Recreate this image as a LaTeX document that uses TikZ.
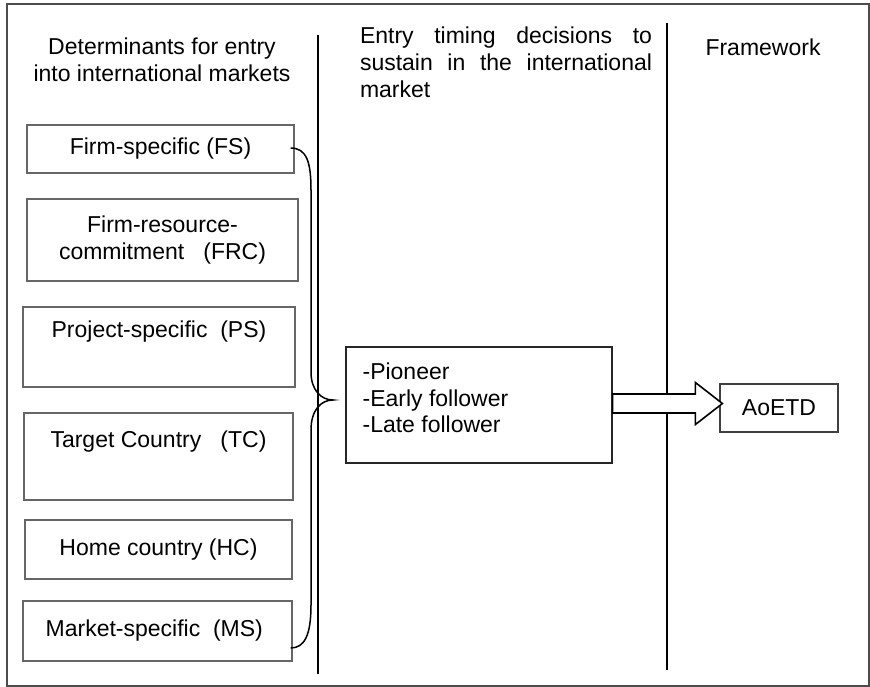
\documentclass[tikz,border=0pt]{standalone}
\usepackage{fontspec}
\setmainfont{Liberation Sans}
\usetikzlibrary{calc}

\begin{document}
\begin{tikzpicture}[x=1pt, y=-1pt,
  hdr/.style={font=\fontsize{23}{27}\selectfont},
  detbox/.style={draw=black!60, line width=1.2pt, align=center, inner sep=0pt, font=\fontsize{23}{27}\selectfont}]
  \useasboundingbox (0,0) rectangle (870,687);
  % outer frame
  \draw[black!70, line width=1.8pt] (7,4) rectangle (869,686);
  % column dividers
  \draw[line width=1.6pt] (318,35) -- (318,674);
  \draw[line width=1.6pt] (667,23) -- (667,670);
  % column headings
  \node[hdr, align=center] (hdet) at (162,60) {Determinants for entry\\into international markets};
  \node[hdr, align=justify, text width=292pt, inner sep=0pt] (htim) at (506,62.5)
    {Entry timing decisions to \mbox{sustain} in the \mbox{international} \mbox{market}};
  \node[hdr] (hfw) at (763,47) {Framework};
  % determinants
  \foreach \nm/\cx/\cy/\w/\h/\txt in {
    fs/160.5/149/267/48/{Firm-specific (FS)},
    frc/162.5/240/271/82/{Firm-resource-\\commitment~~~(FRC)},
    ps/159/347/272/80/{Project-specific~~(PS)\\ \strut},
    tc/158.5/456.5/269/87/{Target Country~~~(TC)\\ \strut},
    hc/158.5/549.5/267/59/{Home country (HC)},
    ms/157.5/631/269/60/{Market-specific~~(MS)}
  }
    \node[detbox, minimum width=\w pt, minimum height=\h pt] (\nm) at (\cx,\cy) {\txt};
  % brace
  \coordinate (btop) at ($(fs.east)+(-4,-1)$);
  \coordinate (bbot) at ($(ms.east)+(-2,17)$);
  \coordinate (btip) at (333,400);
  \draw[line width=1.5pt] (btop) .. controls +(16,0) and +(0,-28) .. (311,190) -- (311,372)
    .. controls +(0,18) and +(-12,0) .. (btip) .. controls +(-12,0) and +(0,-20) .. (311,430)
    -- (311,605) .. controls +(0,30) and +(14,0) .. (bbot);
  % timing options
  \node[draw=black!85, line width=1.2pt, minimum width=266pt, minimum height=116pt, inner sep=0pt] (opts) at (479,405) {};
  \node[align=left, anchor=north west, inner sep=0pt, font=\fontsize{23}{26.5}\selectfont] (optstxt)
    at ($(opts.north west)+(17,16.5)$) {-Pioneer\\-Early follower\\-Late follower};
  % outcome
  \node[hdr, draw=black!75, line width=1.2pt, minimum width=118pt, minimum height=48pt, inner sep=0pt] (aoetd) at (779,408) {AoETD};
  % block arrow
  \coordinate (arrs) at ($(opts.east)+(0,-1.5)$);
  \coordinate (arre) at ($(aoetd.west)+(3,-4.5)$);
  \draw[line width=1.6pt, fill=white] ($(arrs)+(0,-9.5)$) -- ($(arre)+(-27,-9.5)$) -- ($(arre)+(-27,-21)$)
    -- (arre) -- ($(arre)+(-27,21)$) -- ($(arre)+(-27,9.5)$) -- ($(arrs)+(0,9.5)$) -- cycle;
\end{tikzpicture}
\end{document}
